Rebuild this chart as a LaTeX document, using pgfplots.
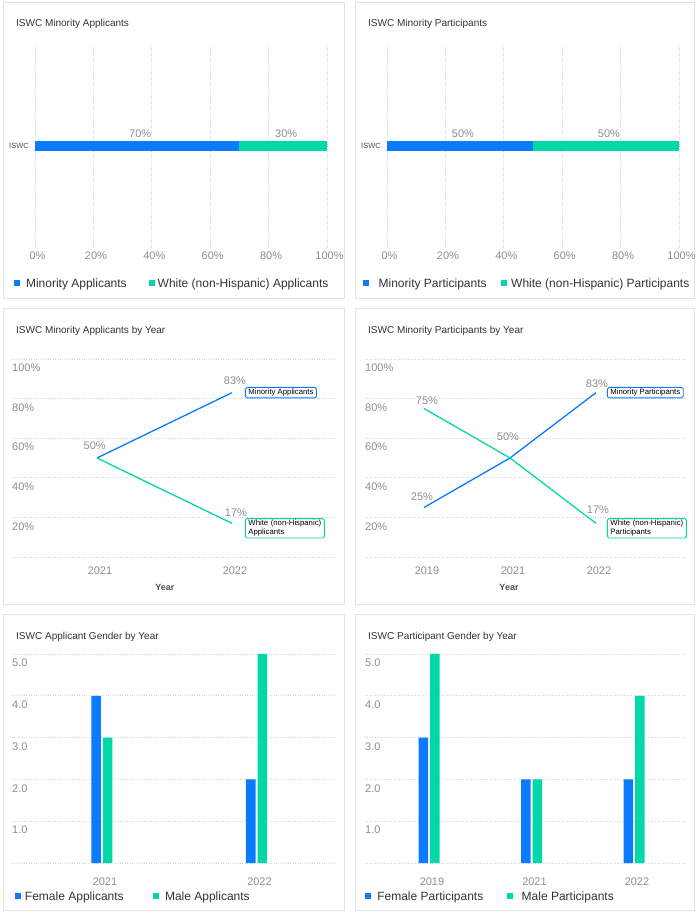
\documentclass[border=0pt]{standalone}
\usepackage{fontspec}
\setmainfont{Liberation Sans}
\usepackage{pgfplots}
\pgfplotsset{compat=1.18}
\definecolor{cblue}{HTML}{0A7BFF}
\definecolor{cgreen}{HTML}{00D8A8}
\definecolor{cgrid}{HTML}{D6D6D6}
\definecolor{ctick}{HTML}{8E8E8E}
\definecolor{ctitle}{HTML}{333333}
\definecolor{cborder}{HTML}{E2E2E2}
\newcommand{\fticks}{\fontsize{11}{13}\selectfont}
\newcommand{\flab}{\fontsize{11}{13}\selectfont}
\newcommand{\fleg}{\fontsize{12}{14}\selectfont}
\newcommand{\fboxlab}{\fontsize{7.75}{9}\selectfont}
\pgfplotsset{
  base/.style={scale only axis, anchor=south west, clip=false,
    axis line style={draw=none}, tick style={draw=none},
    major grid style={draw=cgrid, line width=0.8pt, dash pattern=on 0.8pt off 1.6pt},
    ticklabel style={font=\fticks, text=ctick}},
  sqlegend/.style={legend image code/.code={\fill[#1] (0pt,-2.6pt) rectangle (6pt,3.4pt);}},
  mylegend/.style n args={5}{legend columns=2, legend cell align=left,
    legend style={at={(axis description cs:#1,#2)}, anchor=west, draw=none, fill=none,
      inner sep=0pt, outer sep=0pt, font=\fleg, text=ctitle, nodes={inner sep=0pt},
      /tikz/column 1/.style={column sep=#3},
      /tikz/column 2/.style={column sep=#4},
      /tikz/column 3/.style={column sep=#5}}},
  linelab/.style={draw=none, mark=none, point meta=explicit symbolic,
    nodes near coords={\pgfplotspointmeta\%},
    visualization depends on={\thisrow{dx}\as\dx},
    visualization depends on={\thisrow{dy}\as\dy},
    nodes near coords style={anchor=center, xshift=\dx pt, yshift=\dy pt, font=\flab, text=ctick, inner sep=0pt}},
  boxlab/.style={draw=none, mark=none, point meta=explicit symbolic,
    nodes near coords={\pgfplotspointmeta},
    nodes near coords style={anchor=west, draw=#1, line width=0.9pt, rounded corners=1.5pt, fill=white,
      text=black, font=\fboxlab, inner xsep=3pt, inner ysep=1.6pt}},
  barlab/.style={point meta=explicit symbolic, nodes near coords={\pgfplotspointmeta\%},
    nodes near coords style={anchor=center, xshift=3pt, yshift=12pt, font=\flab, text=ctick, inner sep=0pt}},
}
\begin{document}
\begin{tikzpicture}[x=1pt,y=1pt]
\useasboundingbox[fill=white] (0,0) rectangle (699,914);
% panel borders
\foreach \xa/\ya/\xb/\yb in {3/616/344/912, 355/616/694/912, 3/310/344/606, 355/310/694/606, 3/4/344/300, 355/4/694/300}
  \draw[cborder, line width=0.9pt] (\xa,\ya) rectangle (\xb,\yb);
% titles
\begin{scope}[every node/.style={anchor=base west, font=\fontsize{10}{12}\selectfont, text=ctitle, inner sep=0pt}]
\node at (16,887) {ISWC Minority Applicants};
\node at (368,887) {ISWC Minority Participants};
\node at (16,580) {ISWC Minority Applicants by Year};
\node at (368,580) {ISWC Minority Participants by Year};
\node at (16,274) {ISWC Applicant Gender by Year};
\node at (368,274) {ISWC Participant Gender by Year};
\end{scope}

% ---------- Panel 1 ----------
\begin{axis}[base, at={(35pt,666pt)}, width=292pt, height=204pt,
  xmin=0, xmax=100, ymin=-1, ymax=1, xbar stacked, bar width=10pt,
  xmajorgrids, xtick={0,20,40,60,80,100}, xticklabels={0\%,20\%,40\%,60\%,80\%,100\%},
  xticklabel style={anchor=center, inner sep=0pt, yshift=-8pt, xshift=2.5pt},
  ytick={0}, yticklabels={ISWC},
  yticklabel style={font=\fontsize{7.5}{9}\selectfont, text=black!70, anchor=east, inner sep=0pt, xshift=-6pt},
  mylegend={-0.0719}{-0.1745}{6pt}{22.3pt}{2.7pt}]
\addplot[fill=cblue, draw=none, sqlegend=cblue, barlab] coordinates {(70,0) [70]};
\addlegendentry{Minority Applicants}
\addplot[fill=cgreen, draw=none, sqlegend=cgreen, barlab] coordinates {(30,0) [30]};
\addlegendentry{White (non-Hispanic) Applicants}
\end{axis}

% ---------- Panel 2 ----------
\begin{axis}[base, at={(387pt,666pt)}, width=292pt, height=204pt,
  xmin=0, xmax=100, ymin=-1, ymax=1, xbar stacked, bar width=10pt,
  xmajorgrids, xtick={0,20,40,60,80,100}, xticklabels={0\%,20\%,40\%,60\%,80\%,100\%},
  xticklabel style={anchor=center, inner sep=0pt, yshift=-8pt, xshift=2.5pt},
  ytick={0}, yticklabels={ISWC},
  yticklabel style={font=\fontsize{7.5}{9}\selectfont, text=black!70, anchor=east, inner sep=0pt, xshift=-6pt},
  mylegend={-0.0825}{-0.1745}{9.7pt}{14.6pt}{4pt}]
\addplot[fill=cblue, draw=none, sqlegend=cblue, barlab] coordinates {(50,0) [50]};
\addlegendentry{Minority Participants}
\addplot[fill=cgreen, draw=none, sqlegend=cgreen, barlab] coordinates {(50,0) [50]};
\addlegendentry{White (non-Hispanic) Participants}
\end{axis}

% ---------- Panel 3 ----------
\begin{axis}[base, at={(12pt,357pt)}, width=322pt, height=198pt,
  xmin=-0.6296, xmax=1.7556, ymin=0, ymax=100,
  xtick={0,1}, xticklabels={2021,2022},
  xticklabel style={anchor=center, inner sep=0pt, yshift=-14pt, xshift=3pt},
  ytick={0,20,40,60,80,100}, yticklabels={,20\%,40\%,60\%,80\%,100\%},
  yticklabel style={anchor=west, inner sep=0pt, yshift=-9pt},
  ymajorgrids,
  xlabel={Year}, xlabel style={at={(axis description cs:0.475,-0.1515)}, anchor=center,
    font=\bfseries\fontsize{9}{11}\selectfont, text=ctitle!85, inner sep=0pt}]
\addplot[cblue, line width=1.3pt, mark=none] coordinates {(0,50) (1,83)};
\addplot[cgreen, line width=1.3pt, mark=none] coordinates {(0,50) (1,17)};
\addplot[linelab] table[x=x, y=y, meta=lab] {
x y dx dy lab
0 50 -2.3 12.3 50
1 83 3 12.4 83
1 17 4 10.6 17
};
\addplot[boxlab=cblue, nodes near coords style={xshift=13pt}] coordinates {(1,83) [Minority Applicants]};
\addplot[boxlab=cgreen, nodes near coords style={xshift=13pt, yshift=-5pt, text width=73pt, align=left}]
  coordinates {(1,17) [{White (non-Hispanic) Applicants}]};
\end{axis}

% ---------- Panel 4 ----------
\begin{axis}[base, at={(365pt,357pt)}, width=320pt, height=198pt,
  xmin=-0.686, xmax=3.035, ymin=0, ymax=100,
  xtick={0,1,2}, xticklabels={2019,2021,2022},
  xticklabel style={anchor=center, inner sep=0pt, yshift=-14pt, xshift=3pt},
  ytick={0,20,40,60,80,100}, yticklabels={,20\%,40\%,60\%,80\%,100\%},
  yticklabel style={anchor=west, inner sep=0pt, yshift=-9pt},
  ymajorgrids,
  xlabel={Year}, xlabel style={at={(axis description cs:0.45,-0.1515)}, anchor=center,
    font=\bfseries\fontsize{9}{11}\selectfont, text=ctitle!85, inner sep=0pt}]
\addplot[cblue, line width=1.3pt, mark=none] coordinates {(0,25) (1,50) (2,83)};
\addplot[cgreen, line width=1.3pt, mark=none] coordinates {(0,75) (1,50) (2,17)};
\addplot[linelab] table[x=x, y=y, meta=lab] {
x y dx dy lab
0 75 3 7.5 75
0 25 -2 10.5 25
1 50 -2 21 50
2 83 1 9 83
2 17 2 14 17
};
\addplot[boxlab=cblue, nodes near coords style={xshift=11pt}] coordinates {(2,83) [Minority Participants]};
\addplot[boxlab=cgreen, nodes near coords style={xshift=11pt, yshift=-5pt, text width=73pt, align=left}]
  coordinates {(2,17) [{White (non-Hispanic) Participants}]};
\end{axis}

% ---------- Panel 5 ----------
\begin{axis}[base, at={(12pt,51pt)}, width=322pt, height=209pt,
  xmin=-0.5825, xmax=1.5016, ymin=0, ymax=5, ybar, bar width=9.5pt,
  xtick={0,1}, xticklabels={2021,2022},
  xticklabel style={anchor=center, inner sep=0pt, yshift=-14pt, xshift=3pt},
  ytick={0,1,2,3,4,5}, yticklabels={,1.0,2.0,3.0,4.0,5.0},
  yticklabel style={anchor=west, inner sep=0pt, yshift=-9pt},
  ymajorgrids,
  mylegend={0.0093}{-0.1608}{4pt}{29.6pt}{5.7pt}]
\addplot[fill=cblue, draw=none, bar shift=-5.75pt, sqlegend=cblue] coordinates {(0,4) (1,2)};
\addlegendentry{Female Applicants}
\addplot[fill=cgreen, draw=none, bar shift=5.75pt, sqlegend=cgreen] coordinates {(0,3) (1,5)};
\addlegendentry{Male Applicants}
\end{axis}

% ---------- Panel 6 ----------
\begin{axis}[base, at={(365pt,51pt)}, width=320pt, height=209pt,
  xmin=-0.6244, xmax=2.4976, ymin=0, ymax=5, ybar, bar width=9.5pt,
  xtick={0,1,2}, xticklabels={2019,2021,2022},
  xticklabel style={anchor=center, inner sep=0pt, yshift=-14pt, xshift=3pt},
  ytick={0,1,2,3,4,5}, yticklabels={,1.0,2.0,3.0,4.0,5.0},
  yticklabel style={anchor=west, inner sep=0pt, yshift=-9pt},
  ymajorgrids,
  mylegend={0}{-0.1608}{6.3pt}{23.4pt}{9pt}]
\addplot[fill=cblue, draw=none, bar shift=-5.75pt, sqlegend=cblue] coordinates {(0,3) (1,2) (2,2)};
\addlegendentry{Female Participants}
\addplot[fill=cgreen, draw=none, bar shift=5.75pt, sqlegend=cgreen] coordinates {(0,5) (1,2) (2,4)};
\addlegendentry{Male Participants}
\end{axis}
\end{tikzpicture}
\end{document}
